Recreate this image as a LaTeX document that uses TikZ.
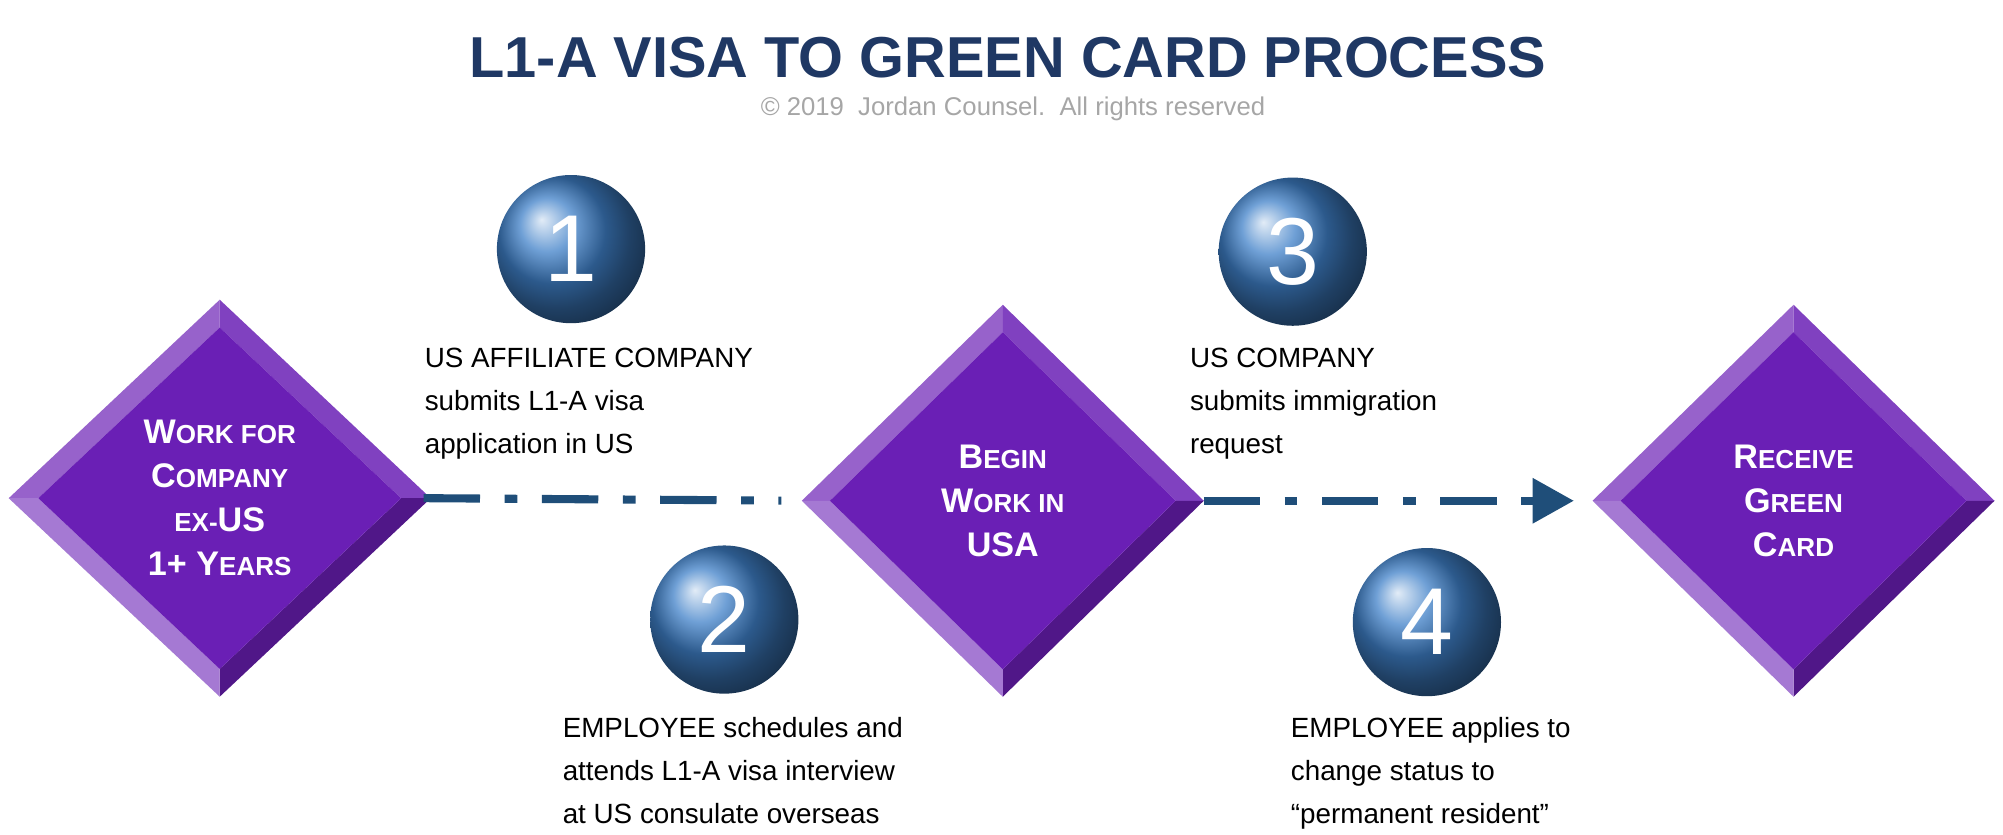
\documentclass[tikz,border=0pt]{standalone}
\usepackage{fontspec}
\setmainfont{Liberation Sans}
\usetikzlibrary{backgrounds,calc,arrows.meta,shapes.geometric}
\definecolor{navy}{HTML}{1F3864}
\definecolor{lineblue}{HTML}{1F4E79}
\definecolor{face}{HTML}{6A1FB5}
\definecolor{ballblue}{HTML}{3F80C8}
\newcommand\sm[1]{{\fontsize{7.4}{8}\selectfont #1}}
\begin{document}
\begin{tikzpicture}[x=0.012755cm,y=-0.012755cm,
    dia/.style={diamond,minimum width=4.0cm,minimum height=3.9cm,inner sep=0pt,
      text=white,align=center,font=\fontsize{9.7}{12.5}\selectfont\bfseries},
    ball/.style={circle,minimum size=1.48cm,inner sep=0pt,shading=ball,
      ball color=ballblue,text=white,font=\fontsize{27}{30}\selectfont},
    steptext/.style={anchor=north west,align=left,inner sep=0pt,
      font=\fontsize{7.9}{12.2}\selectfont},
    flow/.style={lineblue,line width=2.3pt,dash pattern=on 16pt off 7pt on 3.6pt off 7pt}]
  \useasboundingbox (0,0) rectangle (1568,653);
  % title
  \node[navy,font=\fontsize{16.4}{18}\selectfont\bfseries] (title) at (789,45) {L1-A VISA TO GREEN CARD PROCESS};
  \node[gray!70,font=\fontsize{7.3}{8}\selectfont] (copy) at (793,85) {© 2019\ \ Jordan Counsel.\ \ All rights reserved};
  % diamonds
  \node[dia,minimum width=4.2cm,minimum height=3.95cm] (work) at (172,390) {W\sm{ORK FOR}\\C\sm{OMPANY}\\\sm{EX-}US\\1+ Y\sm{EARS}};
  \node[dia] (usa) at (785,392) {B\sm{EGIN}\\W\sm{ORK IN}\\USA};
  \node[dia] (green) at (1404,392) {R\sm{ECEIVE}\\G\sm{REEN}\\C\sm{ARD}};
  \begin{scope}[on background layer]
    \foreach \n in {work,usa,green}{
      \coordinate (\n-n) at ($(\n.center)!0.86!(\n.north)$);
      \coordinate (\n-s) at ($(\n.center)!0.86!(\n.south)$);
      \coordinate (\n-e) at ($(\n.center)!0.86!(\n.east)$);
      \coordinate (\n-w) at ($(\n.center)!0.86!(\n.west)$);
      \fill[face!70!white] (\n.west) -- (\n.north) -- (\n-n) -- (\n-w) -- cycle;
      \fill[face!85!white] (\n.north) -- (\n.east) -- (\n-e) -- (\n-n) -- cycle;
      \fill[face!75!black] (\n.east) -- (\n.south) -- (\n-s) -- (\n-e) -- cycle;
      \fill[face!60!white] (\n.south) -- (\n.west) -- (\n-w) -- (\n-s) -- cycle;
      \fill[face] (\n-n) -- (\n-e) -- (\n-s) -- (\n-w) -- cycle;
    }
  \end{scope}
  % flow lines
  \draw[flow,shorten <=-2pt,shorten >=5.8pt] (work.east) -- (usa.west);
  \draw[flow,shorten >=5.4pt,-{Triangle[length=11.6pt,width=13pt,line width=0pt]}] (usa.east) -- (green.west);
  % steps
  \node[ball] (one) at (447,195) {1};
  \node[ball] (two) at (567,485) {2};
  \node[ball] (three) at (1012,197) {3};
  \node[ball] (four) at (1117,487) {4};
  \node[steptext] (t1) at (332,272) {US AFFILIATE COMPANY\\submits L1-A visa\\application in US};
  \node[steptext] (t2) at (440,561) {EMPLOYEE schedules and\\attends L1-A visa interview\\at US consulate overseas};
  \node[steptext] (t3) at (931,272) {US COMPANY\\submits immigration\\request};
  \node[steptext] (t4) at (1010,561) {EMPLOYEE applies to\\change status to\\“permanent resident”};
\end{tikzpicture}
\end{document}
